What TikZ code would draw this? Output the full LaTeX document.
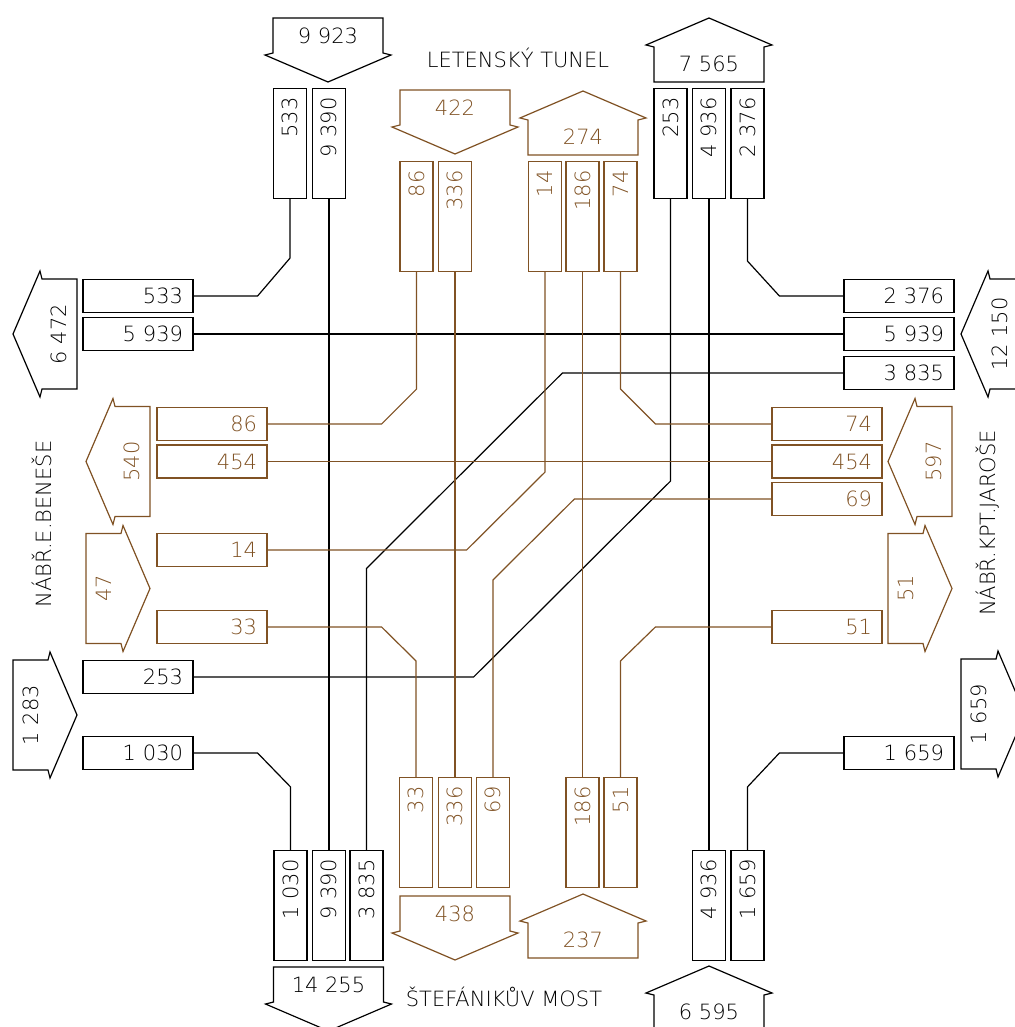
\documentclass[tikz,border=0pt]{standalone}
\usepackage{fontspec}
\setmainfont{DejaVu Sans ExtraLight}
\usepackage{graphicx}
\definecolor{brn}{RGB}{128,82,36}
\tikzset{
  vbox/.style={draw, line width=1.2pt, minimum width=33pt, minimum height=110pt, inner sep=0pt},
  hbox/.style={draw, line width=1.2pt, text width=90pt, align=right, inner xsep=10pt, inner ysep=0pt, minimum height=33pt},
  side/.style={draw=brn, text=brn},
  flow/.style={line width=1.2pt},
}
% text in an upright box, set from the top down
\newcommand{\vt}[1]{\rotatebox{90}{\makebox[92pt][r]{#1}}}
% block arrow: [text offset], colour, name, base point, direction, text, text angle
\newcommand{\flowarrow}[7][18]{%
  \begin{scope}[shift={#4}, rotate=#5]
    \draw[#2, flow] (0,-55) -- (35,-55) -- (37,-63) -- (64,0) -- (37,63) -- (35,55) -- (0,55) -- cycle;
    \node[text=#2, rotate=#7] (#3) at (#1,0) {#6};
  \end{scope}}

\begin{document}
\begin{tikzpicture}[x=1pt, y=-1pt, font=\fontsize{21pt}{24pt}\selectfont]
  \useasboundingbox (0,0) rectangle (1014,1027);

  % street names
  \node (letna) at (518,58) {LETENSKÝ TUNEL};
  \node (most) at (504,997) {ŠTEFÁNIKŮV MOST};
  \node[rotate=90] (benese) at (42,524) {NÁBŘ.E.BENEŠE};
  \node[rotate=90] (jarose) at (988,523) {NÁBŘ.KPT.JAROŠE};

  % totals
  \flowarrow{black}{a9923}{(328,18)}{-90}{9 923}{0}
  \flowarrow{black}{a7565}{(709,82)}{90}{7 565}{0}
  \flowarrow{brn}{a422}{(455,90)}{-90}{422}{0}
  \flowarrow{brn}{a274}{(583,155)}{90}{274}{0}
  \flowarrow{black}{a6472}{(77,334)}{180}{6 472}{90}
  \flowarrow{brn}{a540}{(150,461.5)}{180}{540}{90}
  \flowarrow{brn}{a47}{(86,588.5)}{0}{47}{90}
  \flowarrow{black}{a1283}{(13,715)}{0}{1 283}{90}
  \flowarrow[25]{black}{a12150}{(1025,334)}{180}{12 150}{90}
  \flowarrow{brn}{a597}{(952,461.5)}{180}{597}{90}
  \flowarrow{brn}{a51}{(888,588.5)}{0}{51}{90}
  \flowarrow{black}{a1659}{(961,714)}{0}{1 659}{90}
  \flowarrow{black}{a14255}{(328.5,967)}{-90}{14 255}{0}
  \flowarrow{brn}{a438}{(455,896)}{-90}{438}{0}
  \flowarrow{brn}{a237}{(583,958)}{90}{237}{0}
  \flowarrow{black}{a6595}{(709,1030)}{90}{6 595}{0}

  % top boxes
  \node[vbox] (t533) at (290,143.5) {\vt{533}};
  \node[vbox] (t9390) at (329,143.5) {\vt{9 390}};
  \node[vbox] (t253) at (670.5,143.5) {\vt{253}};
  \node[vbox] (t4936) at (709,143.5) {\vt{4 936}};
  \node[vbox] (t2376) at (747.5,143.5) {\vt{2 376}};
  \node[vbox, side] (t86) at (416.5,216.5) {\vt{86}};
  \node[vbox, side] (t336) at (455,216.5) {\vt{336}};
  \node[vbox, side] (t14) at (545,216.5) {\vt{14}};
  \node[vbox, side] (t186) at (582.5,216.5) {\vt{186}};
  \node[vbox, side] (t74) at (620.5,216.5) {\vt{74}};

  % bottom boxes
  \node[vbox] (b1030) at (290.5,905.5) {\vt{1 030}};
  \node[vbox] (b9390) at (329,905.5) {\vt{9 390}};
  \node[vbox] (b3835) at (366.5,905.5) {\vt{3 835}};
  \node[vbox] (b4936) at (709,905.5) {\vt{4 936}};
  \node[vbox] (b1659) at (747.5,905.5) {\vt{1 659}};
  \node[vbox, side] (b33) at (416,832.5) {\vt{33}};
  \node[vbox, side] (b336) at (455,832.5) {\vt{336}};
  \node[vbox, side] (b69) at (493,832.5) {\vt{69}};
  \node[vbox, side] (b186) at (582.5,832.5) {\vt{186}};
  \node[vbox, side] (b51) at (620.5,832.5) {\vt{51}};

  % left boxes
  \node[hbox] (l533) at (138,296) {533};
  \node[hbox] (l5939) at (138,334) {5 939};
  \node[hbox] (l253) at (138,677) {253};
  \node[hbox] (l1030) at (138,753) {1 030};
  \node[hbox, side] (l86) at (212,424) {86};
  \node[hbox, side] (l454) at (212,461.5) {454};
  \node[hbox, side] (l14) at (212,550) {14};
  \node[hbox, side] (l33) at (212,627) {33};

  % right boxes
  \node[hbox] (r2376) at (899,296) {2 376};
  \node[hbox] (r5939) at (899,334) {5 939};
  \node[hbox] (r3835) at (899,373) {3 835};
  \node[hbox] (r1659) at (899,753) {1 659};
  \node[hbox, side] (r74) at (827,424) {74};
  \node[hbox, side] (r454) at (827,461.5) {454};
  \node[hbox, side] (r69) at (827,499) {69};
  \node[hbox, side] (r51) at (827,627) {51};

  % black flows
  \draw[flow] (t533.south) -- ++(0,59) -- ([xshift=64pt]l533.east) -- (l533.east);
  \draw[flow] (t9390.south) -- (b9390.north);
  \draw[flow] (t253.south) -- ++(0,282) -- ([xshift=280pt]l253.east) -- (l253.east);
  \draw[flow] (t4936.south) -- (b4936.north);
  \draw[flow] (t2376.south) -- ++(0,62) -- ([xshift=-64pt]r2376.west) -- (r2376.west);
  \draw[flow] (l5939.east) -- (r5939.west);
  \draw[flow] (b3835.north) -- ++(0,-281.5) -- ([xshift=-281pt]r3835.west) -- (r3835.west);
  \draw[flow] (l1030.east) -- ++(64,0) -- ([yshift=63pt]b1030.north) -- (b1030.north);
  \draw[flow] (r1659.west) -- ++(-64,0) -- ([yshift=63pt]b1659.north) -- (b1659.north);

  % brown flows
  \draw[flow, brn] (t86.south) -- ++(0,117) -- ([xshift=114pt]l86.east) -- (l86.east);
  \draw[flow, brn] (t336.south) -- (b336.north);
  \draw[flow, brn] (t14.south) -- ++(0,200) -- ([xshift=199pt]l14.east) -- (l14.east);
  \draw[flow, brn] (t186.south) -- (b186.north);
  \draw[flow, brn] (t74.south) -- ++(0,117) -- ([xshift=-116pt]r74.west) -- (r74.west);
  \draw[flow, brn] (l454.east) -- (r454.west);
  \draw[flow, brn] (r69.west) -- ++(-197,0) -- ([yshift=197pt]b69.north) -- (b69.north);
  \draw[flow, brn] (l33.east) -- ++(114,0) -- ([yshift=116pt]b33.north) -- (b33.north);
  \draw[flow, brn] (r51.west) -- ++(-116,0) -- ([yshift=116pt]b51.north) -- (b51.north);

\end{tikzpicture}
\end{document}
